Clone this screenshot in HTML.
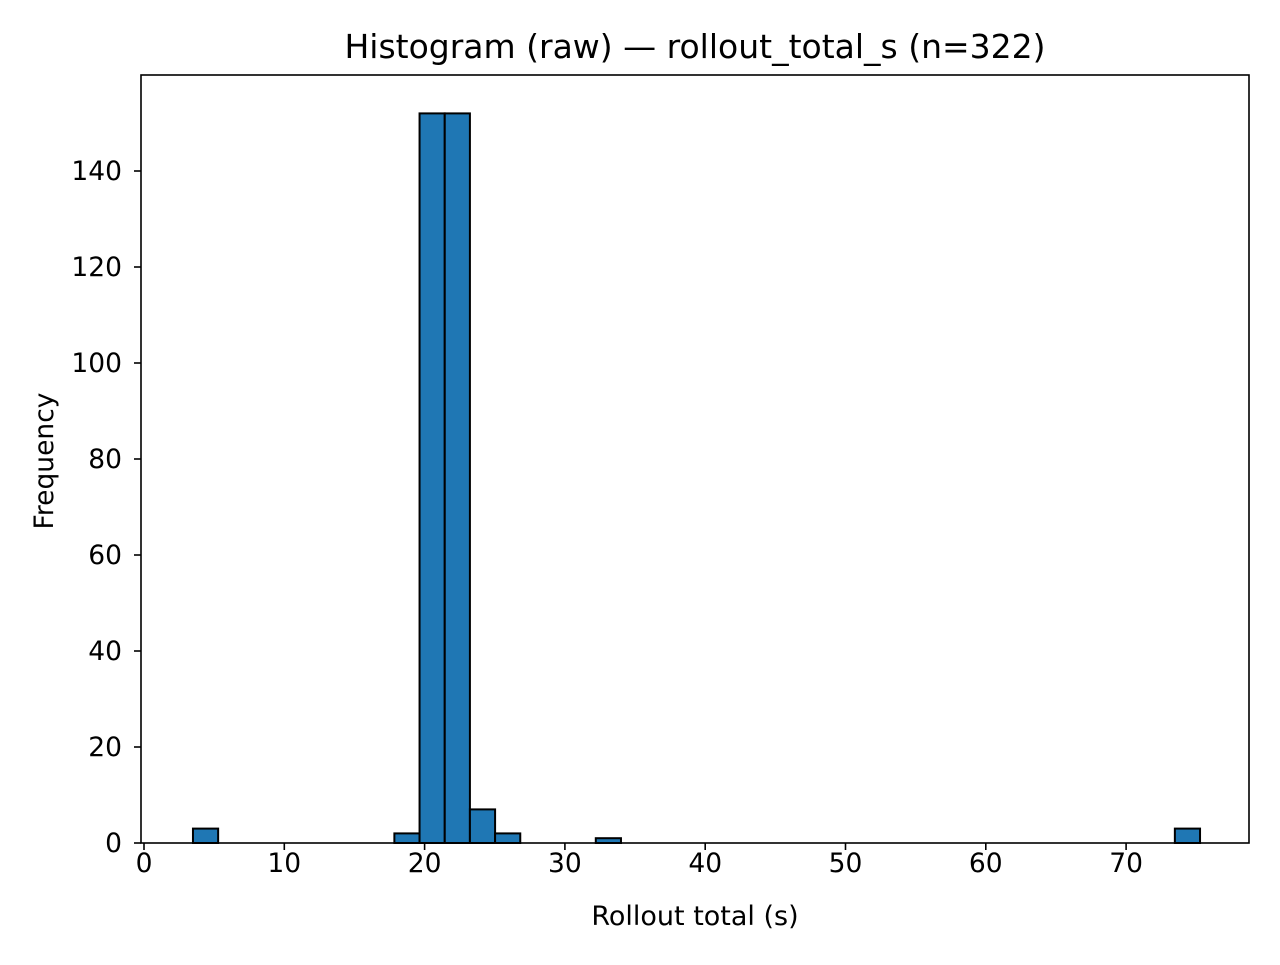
<!DOCTYPE html>
<html><head><meta charset="utf-8"><style>
body{margin:0;background:#fff;}
svg text{font-family:"DejaVu Sans","Liberation Sans",sans-serif;fill:#000;}
</style></head><body>
<svg id="chart" width="1280" height="960" xmlns="http://www.w3.org/2000/svg">
<rect width="1280" height="960" fill="#fff"/>
<text x="695" y="58" font-size="33" text-anchor="middle">Histogram (raw) — rollout_total_s (n=322)</text>
<g id="bars"></g>
<g id="axes"></g>
<text x="695" y="925" font-size="27" text-anchor="middle">Rollout total (s)</text>
<text transform="translate(53,461) rotate(-90)" font-size="26.5" text-anchor="middle">Frequency</text>
</svg>
<script>
const binStart = 3.49;
const binEnd = 75.27;
const counts = [3,0,0,0,0,0,0,0,2,152,152,7,2,0,0,0,1,0,0,0,0,0,0,0,0,0,0,0,0,0,0,0,0,0,0,0,0,0,0,3];
const xTicks = [0,10,20,30,40,50,60,70];
const yTicks = [0,20,40,60,80,100,120,140];

const L=141,R=1249,T=75,B=843;
const xs = v => 144 + v*14.03;
const ys = v => B - v*4.8;
const NS="http://www.w3.org/2000/svg";
const bars=document.getElementById('bars'), axes=document.getElementById('axes');
const w=(binEnd-binStart)/counts.length;
counts.forEach((c,i)=>{
  if(c<=0) return;
  const x0=xs(binStart+i*w), x1=xs(binStart+(i+1)*w);
  const r=document.createElementNS(NS,'rect');
  
  
  r.setAttribute('x',x0);r.setAttribute('y',ys(c));
  r.setAttribute('width',x1-x0);r.setAttribute('height',B-ys(c));
  r.setAttribute('fill','#1f77b4');r.setAttribute('stroke','#000');r.setAttribute('stroke-width','2');
  bars.appendChild(r);
});
const frame=document.createElementNS(NS,'rect');


frame.setAttribute('x',L);frame.setAttribute('y',T);frame.setAttribute('width',R-L);frame.setAttribute('height',B-T);
frame.setAttribute('fill','none');frame.setAttribute('stroke','#000');frame.setAttribute('stroke-width','1.6');
axes.appendChild(frame);
xTicks.forEach(t=>{
  const x=xs(t);
  const l=document.createElementNS(NS,'line');
  
  
  l.setAttribute('x1',x);l.setAttribute('x2',x);l.setAttribute('y1',B);l.setAttribute('y2',B+7);l.setAttribute('stroke','#000');l.setAttribute('stroke-width','1.6');
  axes.appendChild(l);
  const tx=document.createElementNS(NS,'text');
  
  
  tx.setAttribute('x',x);tx.setAttribute('y',B+29);tx.setAttribute('font-size','26.5');tx.setAttribute('text-anchor','middle');
  tx.textContent=t;axes.appendChild(tx);
});
yTicks.forEach(t=>{
  const y=ys(t);
  const l=document.createElementNS(NS,'line');
  
  
  l.setAttribute('x1',L-7);l.setAttribute('x2',L);l.setAttribute('y1',y);l.setAttribute('y2',y);l.setAttribute('stroke','#000');l.setAttribute('stroke-width','1.6');
  axes.appendChild(l);
  const tx=document.createElementNS(NS,'text');
  
  
  tx.setAttribute('x',L-19);tx.setAttribute('y',y+9);tx.setAttribute('font-size','26.5');tx.setAttribute('text-anchor','end');
  tx.textContent=t;axes.appendChild(tx);
});
</script>
</body></html>
